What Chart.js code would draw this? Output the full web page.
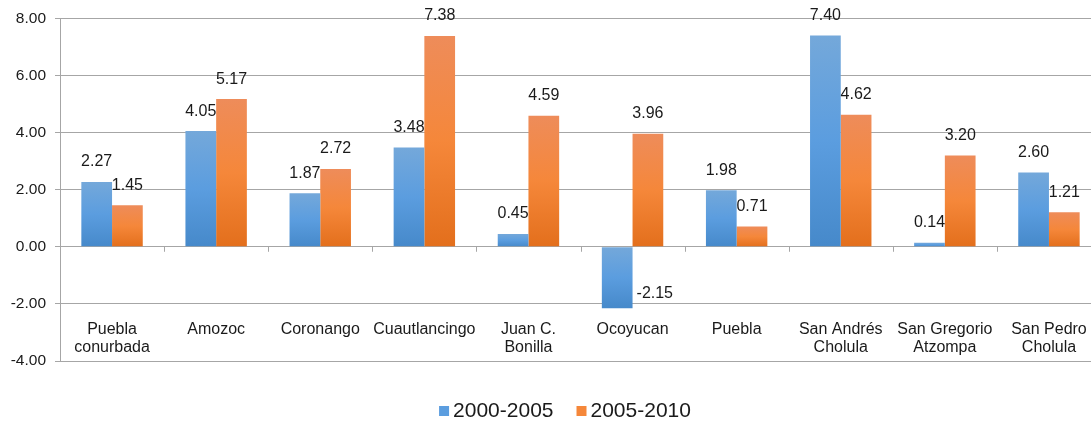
<!DOCTYPE html>
<html>
<head>
<meta charset="utf-8">
<script src="https://cdn.jsdelivr.net/npm/chart.js@4/dist/chart.umd.min.js"></script>
<style>
  html, body { margin: 0; padding: 0; overflow: hidden; background: #fff; }
  canvas { display: block; }
</style>
</head>
<body>
<canvas id="chart" width="1130" height="422"></canvas>
<script>
// data
const municipios = [
  ['Puebla', 'conurbada'], ['Amozoc'], ['Coronango'], ['Cuautlancingo'], ['Juan C.', 'Bonilla'],
  ['Ocoyucan'], ['Puebla'], ['San Andrés', 'Cholula'], ['San Gregorio', 'Atzompa'], ['San Pedro', 'Cholula']
];
const tasa2000_2005 = [2.27, 4.05, 1.87, 3.48, 0.45, -2.15, 1.98, 7.40, 0.14, 2.60];
const tasa2005_2010 = [1.45, 5.17, 2.72, 7.38, 4.59, 3.96, 0.71, 4.62, 3.20, 1.21];
const seriesNames = ['2000-2005', '2005-2010'];

const FONT = '"Liberation Sans", Arial, sans-serif';
const TEXT = '#1a1a1a';
const GRID = '#a6a6a6';

// top -> middle -> bottom colours of each bar
const blueStops = ['#74a8da', '#5b9ddf', '#4689ca'];
const orangeStops = ['#ee8c5a', '#f5873a', '#e36f1c'];

function barGradient(stops) {
  return (ctx) => {
    const chart = ctx.chart;
    const y = chart.scales.y;
    if (!chart.chartArea || !y || ctx.parsed == null) return stops[1];
    const v = ctx.parsed.y;
    const top = y.getPixelForValue(Math.max(v, 0));
    const bot = y.getPixelForValue(Math.min(v, 0));
    if (!isFinite(top) || !isFinite(bot) || bot - top < 1) return stops[1];
    const g = chart.ctx.createLinearGradient(0, top, 0, bot);
    g.addColorStop(0, stops[0]);
    g.addColorStop(0.5, stops[1]);
    g.addColorStop(1, stops[2]);
    return g;
  };
}

// value labels, category labels, zero-line ticks and legend
const decorations = {
  id: 'decorations',
  afterDatasetsDraw(chart) {
    const ctx = chart.ctx;
    const x = chart.scales.x;
    const y = chart.scales.y;
    const zero = y.getPixelForValue(0);
    ctx.save();

    // small ticks under the zero line between categories
    ctx.strokeStyle = GRID;
    ctx.lineWidth = 1;
    for (let i = 1; i < municipios.length; i++) {
      const bx = Math.round((x.getPixelForValue(i - 1) + x.getPixelForValue(i)) / 2) + 0.5;
      ctx.beginPath();
      ctx.moveTo(bx, zero);
      ctx.lineTo(bx, zero + 5);
      ctx.stroke();
    }

    // data labels
    ctx.fillStyle = TEXT;
    ctx.font = '16px ' + FONT;
    ctx.textBaseline = 'middle';
    chart.data.datasets.forEach((ds, di) => {
      chart.getDatasetMeta(di).data.forEach((bar, i) => {
        const v = ds.data[i];
        const txt = v.toFixed(2);
        if (v < 0) {
          ctx.textAlign = 'left';
          ctx.fillText(txt, bar.x + bar.width / 2 + 4, bar.y - 15);
        } else {
          ctx.textAlign = 'center';
          ctx.fillText(txt, bar.x, bar.y - 20);
        }
      });
    });

    // category labels
    ctx.textAlign = 'center';
    municipios.forEach((lines, i) => {
      const cx = x.getPixelForValue(i);
      lines.forEach((t, li) => ctx.fillText(t, cx, 329.5 + li * 18.4));
    });

    // legend
    ctx.font = '21px ' + FONT;
    ctx.textAlign = 'left';
    const box = 10, gap = 4, spacing = 23;
    const widths = seriesNames.map(n => ctx.measureText(n).width);
    const total = widths.reduce((a, w) => a + box + gap + w, 0) + spacing * (seriesNames.length - 1);
    let lx = chart.width / 2 - total / 2;
    const ly = 411;
    seriesNames.forEach((n, i) => {
      ctx.fillStyle = [blueStops, orangeStops][i][1];
      ctx.fillRect(lx, ly - 5, box, box);
      ctx.fillStyle = TEXT;
      ctx.fillText(n, lx + box + gap, ly);
      lx += box + gap + widths[i] + spacing;
    });
    ctx.restore();
  }
};

new Chart(document.getElementById('chart'), {
  type: 'bar',
  data: {
    labels: municipios,
    datasets: [
      { label: seriesNames[0], data: tasa2000_2005, backgroundColor: barGradient(blueStops) },
      { label: seriesNames[1], data: tasa2005_2010, backgroundColor: barGradient(orangeStops) }
    ]
  },
  options: {
    responsive: false,
    animation: false,
    layout: { padding: { top: 16, right: 29, bottom: 61, left: 0 } },
    datasets: { bar: { categoryPercentage: 0.59, barPercentage: 1.0 } },
    plugins: { legend: { display: false }, tooltip: { enabled: false } },
    scales: {
      x: { display: false },
      y: {
        min: -4, max: 8,
        afterFit: (scale) => { scale.width = 60; },
        ticks: {
          stepSize: 2,
          padding: 9,
          color: TEXT,
          font: { family: FONT, size: 15.5 },
          callback: (v) => Number(v).toFixed(2)
        },
        grid: { color: GRID, tickLength: 5, drawTicks: true },
        border: { display: true, color: GRID }
      }
    }
  },
  plugins: [decorations]
});
</script>
</body>
</html>
